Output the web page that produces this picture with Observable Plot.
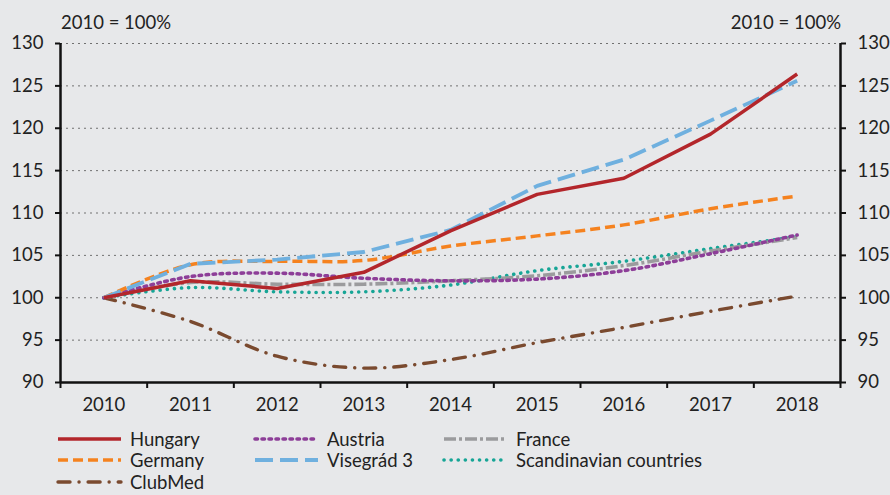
<!DOCTYPE html>
<html>
<head>
<meta charset="utf-8">
<script src="https://cdn.jsdelivr.net/npm/d3@7"></script>
<script src="https://cdn.jsdelivr.net/npm/@observablehq/plot@0.6"></script>
<style>
  html, body { margin: 0; padding: 0; background: #e7e8ea; }
  body { width: 890px; height: 495px; overflow: hidden; font-family: Lato, "Open Sans", sans-serif; color: #222; position: relative; }
  #head { height: 31px; position: relative; font-size: 18.5px; }
  #head .l { position: absolute; left: 61px; top: 11px; }
  #head .r { position: absolute; right: 49px; top: 11px; }
  #chart svg { display: block; }
  #legend { position: absolute; top: 428px; left: 56px; display: grid; grid-template-columns: 197px 189px auto; grid-auto-rows: 21.5px; font-size: 18.5px; line-height: 1; }
  #legend .item { display: flex; align-items: center; white-space: nowrap; }
  #legend svg { margin-right: 7px; flex: none; }
</style>
</head>
<body>
<div id="head"><span class="l">2010 = 100%</span><span class="r">2010 = 100%</span></div>
<div id="chart"></div>
<div id="legend"></div>
<script>
const years = [2010, 2011, 2012, 2013, 2014, 2015, 2016, 2017, 2018];
const yTicks = [90, 95, 100, 105, 110, 115, 120, 125, 130];

const hungary      = [100, 102.0, 101.1, 103.0, 107.9, 112.2, 114.1, 119.3, 126.4];
const germany      = [100, 103.9, 104.3, 104.4, 106.1, 107.3, 108.6, 110.5, 112.0];
const clubMed      = [100, 97.2, 93.1, 91.7, 92.7, 94.7, 96.5, 98.4, 100.2];
const austria      = [100, 102.5, 102.9, 102.3, 102.0, 102.2, 103.2, 105.2, 107.4];
const visegrad3    = [100, 104.0, 104.5, 105.4, 108.0, 113.2, 116.3, 120.9, 125.6];
const france       = [100, 101.8, 101.6, 101.6, 102.0, 102.6, 103.8, 105.5, 107.1];
const scandinavian = [100, 101.2, 100.7, 100.7, 101.5, 103.2, 104.3, 105.8, 107.2];

const series = [
  {name: "Hungary", values: hungary, color: "#b3262b", dash: null, width: 3.5, cap: "butt", curve: "linear"},
  {name: "Austria", values: austria, color: "#8d3e98", dash: "2.5,4.5", width: 3.6, cap: "round", curve: "catmull-rom"},
  {name: "France", values: france, color: "#9b9b9d", dash: "12,3,3,3", width: 3.6, cap: "butt", curve: "catmull-rom"},
  {name: "Germany", values: germany, color: "#f5821f", dash: "10,5", width: 3.5, cap: "butt", curve: "catmull-rom"},
  {name: "Visegrád 3", values: visegrad3, color: "#6fb0df", dash: "18,7", width: 3.8, cap: "butt", curve: "linear"},
  {name: "Scandinavian countries", values: scandinavian, color: "#17a596", dash: "0.1,7", width: 3.6, cap: "round", curve: "catmull-rom"},
  {name: "ClubMed", values: clubMed, color: "#7a4a2f", dash: "12,9,0.1,9", width: 3.4, cap: "round", curve: "catmull-rom"}
];

// draw order: back to front
const drawOrder = ["ClubMed", "Scandinavian countries", "France", "Austria", "Germany", "Visegrád 3", "Hungary"];

const bounds = d3.range(years[0] - 0.5, years[years.length - 1] + 1, 1);

const lineMarks = drawOrder.map(n => {
  const s = series.find(d => d.name === n);
  const data = years.map((y, i) => ({year: y, value: s.values[i]}));
  return Plot.line(data, {
    x: "year", y: "value", stroke: s.color, strokeWidth: s.width,
    strokeDasharray: s.dash, strokeLinecap: s.cap, strokeLinejoin: "round", curve: s.curve
  });
});

const chart = Plot.plot({
  width: 890,
  height: 389,
  marginTop: 12,
  marginBottom: 38,
  marginLeft: 60,
  marginRight: 50,
  style: {background: "transparent", fontSize: "18.5px", fontFamily: "Lato, 'Open Sans', sans-serif", color: "#222"},
  x: {type: "linear", domain: [bounds[0], bounds[bounds.length - 1]]},
  y: {domain: [90, 130]},
  marks: [
    Plot.gridY(yTicks.filter(v => v > 90), {stroke: "#707070", strokeOpacity: 1, strokeWidth: 1, strokeDasharray: "2,4"}),
    ...lineMarks,
    Plot.axisY(yTicks, {anchor: "left", tickSize: 5, tickPadding: 12, strokeWidth: 2, stroke: "#111", label: null}),
    Plot.axisY(yTicks, {anchor: "right", tickSize: 5, tickPadding: 12, strokeWidth: 2, stroke: "#111", label: null}),
    Plot.axisX(bounds, {tickSize: 6, text: null, strokeWidth: 2, stroke: "#111", label: null}),
    Plot.axisX(years, {tickSize: 0, tickPadding: 15, tickFormat: d => String(d), label: null}),
    Plot.ruleX([bounds[0], bounds[bounds.length - 1]], {y1: 90, y2: 130, stroke: "#111", strokeWidth: 2.5}),
    Plot.ruleY([90], {stroke: "#111", strokeWidth: 2.5})
  ]
});
document.getElementById("chart").appendChild(chart);

// legend
const legendOrder = ["Hungary", "Austria", "France", "Germany", "Visegrád 3", "Scandinavian countries", "ClubMed"];
const legend = d3.select("#legend");
legendOrder.forEach(n => {
  const s = series.find(d => d.name === n);
  const item = legend.append("div").attr("class", "item");
  const svg = item.append("svg").attr("width", 67).attr("height", 10);
  svg.append("line").attr("x1", 2).attr("x2", 65).attr("y1", 5).attr("y2", 5)
    .attr("stroke", s.color).attr("stroke-width", s.width)
    .attr("stroke-dasharray", s.dash).attr("stroke-linecap", s.cap);
  item.append("span").text(s.name);
});
</script>
</body>
</html>
